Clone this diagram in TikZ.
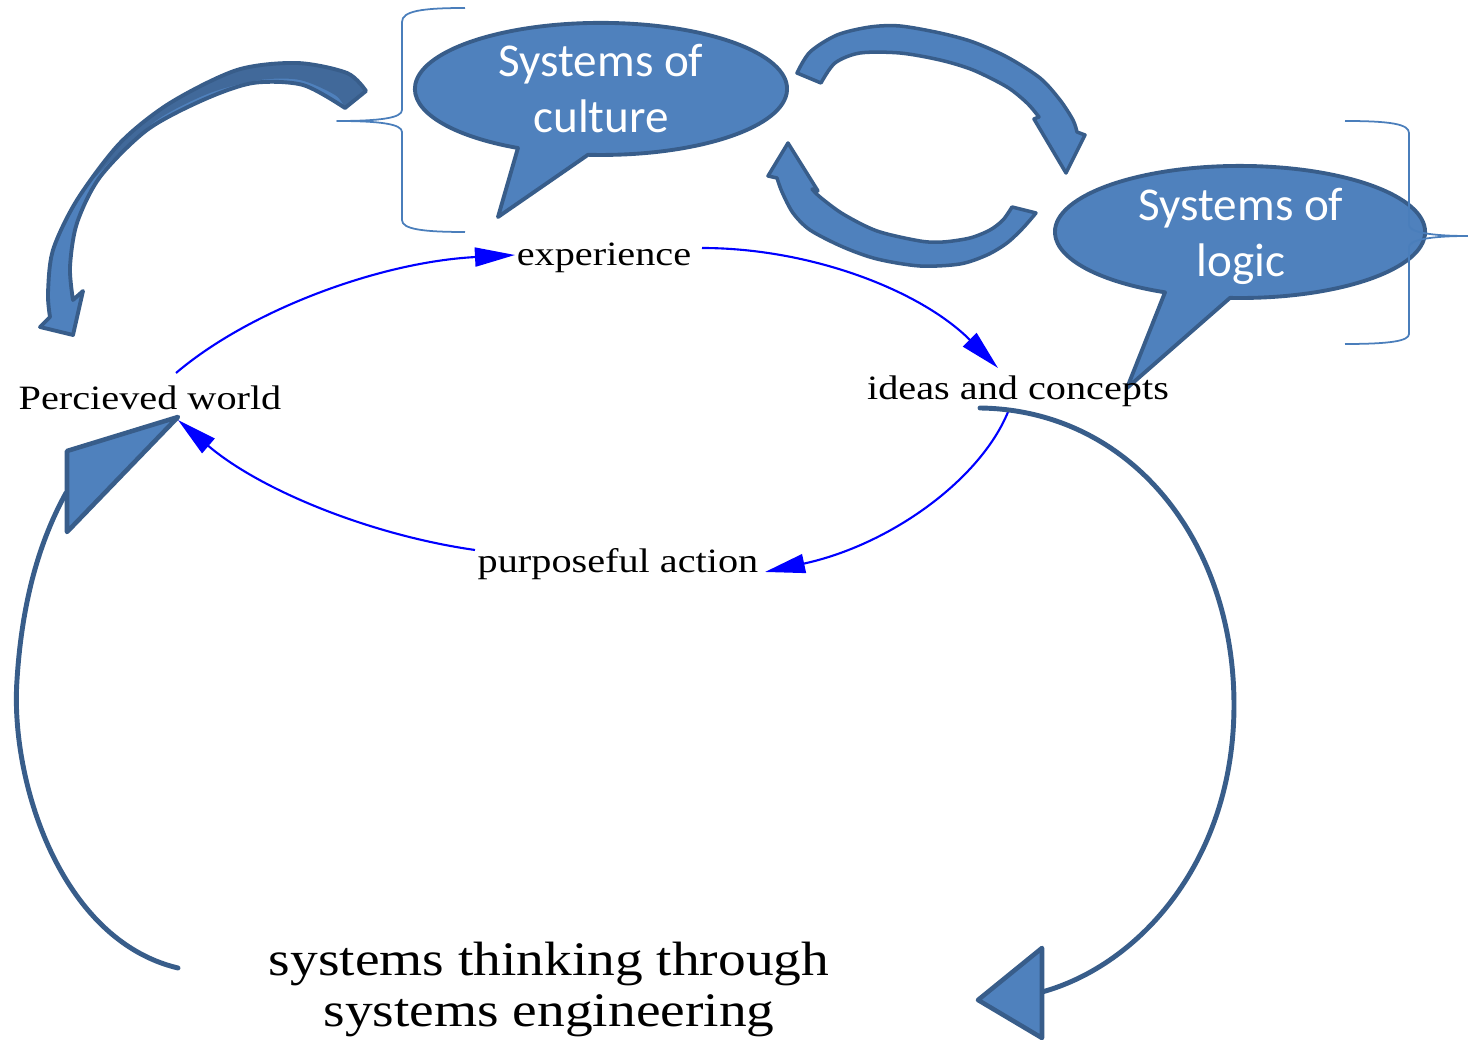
\documentclass[tikz,border=0pt]{standalone}
\usepackage{graphicx}
\usepackage{fontspec}
\setmainfont{Liberation Serif}
\newfontfamily\bubblefont{Carlito}
\usetikzlibrary{arrows.meta}
\definecolor{shapefill}{HTML}{4F81BD}
\definecolor{shapeline}{HTML}{385D8A}
\definecolor{shapedark}{HTML}{41699A}
\definecolor{bracecol}{HTML}{4A7EBB}
\newcommand{\lbltxt}[1]{\scalebox{1.18}[1]{\fontsize{9.7}{11}\selectfont #1}}
\newcommand{\bigtxt}[1]{\scalebox{1.15}[1]{\fontsize{13.7}{15}\selectfont #1}}
\begin{document}
\begin{tikzpicture}[x=0.01cm, y=-0.01cm, line join=round,
  bubble/.style={fill=shapefill, draw=shapeline, line width=1.1pt},
  blocky/.style={fill=shapefill, draw=shapeline, line width=1pt},
  bigarc/.style={draw=shapeline, line width=1.4pt, line cap=round},
  flow/.style={draw=blue, line width=0.6pt, -{Triangle[length=0.4cm, width=0.19cm]}},
  bracket/.style={draw=bracecol, line width=0.5pt},
  lbl/.style={inner sep=0pt, anchor=base},
  btxt/.style={inner sep=0pt, anchor=base, text=white, font=\bubblefont\fontsize{13.4}{16}\selectfont}]
\useasboundingbox (0,0) rectangle (1468,1040);

% bubbles
\filldraw[bubble] (588,154.8) arc[start angle=266.0, end angle=603.5, x radius=1.86cm, y radius=0.66cm] -- (498,217) -- cycle;
\filldraw[bubble] (1230,297.9) arc[start angle=266.9, end angle=606.1, x radius=1.85cm, y radius=0.66cm] -- (1127,388) -- cycle;

% braces
\draw[bracket] (465,8) .. controls (422,8) and (402,11) .. (402,22) -- (402,110)
  .. controls (402,118) and (380,121) .. (337,121)
  .. controls (380,121) and (402,124) .. (402,132) -- (402,220)
  .. controls (402,229) and (422,232) .. (465,232);
\draw[bracket] (1345,121) .. controls (1390,121) and (1409,124) .. (1409,133) -- (1409,225)
  .. controls (1409,232) and (1430,236) .. (1468,236)
  .. controls (1430,236) and (1409,240) .. (1409,247) -- (1409,334)
  .. controls (1409,341) and (1390,344) .. (1345,344);

% circular arrows between bubbles
\filldraw[blocky] plot[smooth] coordinates {(797,73) (810,52) (837,35) (870,27) (900,26) (940,33) (973,42) (1007,57) (1040,78) (1060,100) (1073,120) (1077,132)}
  -- (1085,135) -- (1066,173) -- (1034,119)
  -- plot[smooth] coordinates {(1039,117) (1027,103) (1007,87) (973,70) (940,60) (900,53) (860,53) (835,63) (821,83)} -- cycle;
\filldraw[blocky] (788,143) -- (768,176)
  -- plot[smooth] coordinates {(777,178) (782,192) (793,213) (810,230) (843,247) (877,259) (920,266) (960,264) (987,255) (1007,243) (1023,228) (1036,213)}
  -- plot[smooth] coordinates {(1012,207) (1003,220) (990,230) (970,238) (943,242) (920,241) (877,231) (843,214) (820,197) (812,189)}
  -- (818,191) -- cycle;

% big curved arrow at top left
\fill[shapefill] plot[smooth] coordinates {(366,91) (347,73) (297,63) (237,70) (170,103) (120,143) (77,200) (53,250) (48,293) (50,317)}
  -- (40,327) -- (73,335) -- (83,291)
  -- plot[smooth] coordinates {(73,300) (70,267) (77,223) (100,177) (147,130) (203,100) (253,83) (303,85) (345,108)} -- cycle;
\fill[shapedark] plot[smooth] coordinates {(366,91) (347,73) (297,63) (237,70) (170,103) (120,143) (85,188)}
  -- plot[smooth] coordinates {(85,188) (120,152) (160,118) (210,93) (260,80) (300,80) (335,95) (345,108)} -- cycle;
\draw[draw=shapeline, line width=1.1pt] plot[smooth] coordinates {(366,91) (347,73) (297,63) (237,70) (170,103) (120,143) (77,200) (53,250) (48,293) (50,317)}
  -- (40,327) -- (73,335) -- (83,291)
  -- plot[smooth] coordinates {(73,300) (70,267) (77,223) (100,177) (147,130) (203,100) (253,83) (303,85) (345,108)} -- cycle;

% text nodes
\node[lbl] (pw) at (150,410) {\lbltxt{Percieved world}};
\node[lbl] (exp) at (604,266) {\lbltxt{experience}};
\node[lbl] (idea) at (1018,400) {\lbltxt{ideas and concepts}};
\node[lbl] (act) at (618,573) {\lbltxt{purposeful action}};
\node[lbl] (ste1) at (549,976) {\bigtxt{systems thinking through}};
\node[lbl] (ste2) at (549,1027) {\bigtxt{systems engineering}};
\node[btxt] (cult1) at (601,77) {Systems of};
\node[btxt] (cult2) at (601,133) {culture};
\node[btxt] (logic1) at (1241,221) {Systems of};
\node[btxt] (logic2) at (1241,277) {logic};

% connector end points
\coordinate (pw-out) at (176,373);
\coordinate (pw-in) at (178,420);
\coordinate (exp-in) at (515,255);
\coordinate (exp-out) at (702,248);
\coordinate (idea-in) at (998,368);
\coordinate (idea-out) at (1008,412);
\coordinate (act-in) at (765,572);
\coordinate (act-out) at (475,550);
\coordinate (idea-loop) at (980,408);
\coordinate (ste-loop) at (178,968);

% blue flows
\draw[flow] (pw-out) .. controls (250,310) and (380,262) .. (exp-in);
\draw[flow] (exp-out) .. controls (810,248) and (920,290) .. (idea-in);
\draw[flow] (idea-out) .. controls (980,480) and (890,545) .. (act-in);
\draw[flow] (act-out) .. controls (370,535) and (260,490) .. (pw-in);

% big loop arrows
\draw[bigarc] (idea-loop) .. controls (1130,410) and (1234,540) .. (1234,705)
  .. controls (1234,860) and (1140,965) .. (1042,992);
\filldraw[blocky, line width=1.3pt] (1042,948) -- (1042,1038) -- (978,1000) -- cycle;
\draw[bigarc] (ste-loop) .. controls (60,940) and (10,780) .. (17,680)
  .. controls (22,600) and (40,540) .. (66,493);
\filldraw[blocky, line width=1.3pt] (67,451) -- (67,532) -- (178,417) -- cycle;
\end{tikzpicture}
\end{document}
